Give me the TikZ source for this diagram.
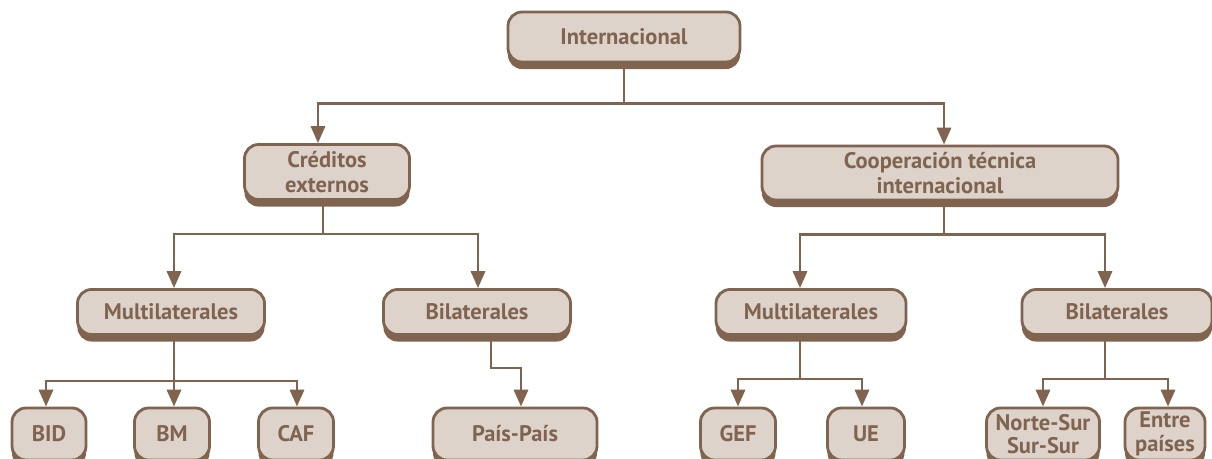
\documentclass[tikz,border=0pt]{standalone}
\usepackage{fontspec}
\setmainfont{PT Sans}
\usetikzlibrary{arrows.meta, shadows, calc}
\definecolor{cafe}{RGB}{128,100,80}
\definecolor{arena}{RGB}{221,211,203}
\tikzset{
	x=0.025cm, y=-0.025cm, % one unit is one pixel of the layout
	caja/.style={rectangle, rounded corners=10pt, draw=cafe, line width=2pt, fill=arena, text=cafe,
		font=\bfseries\fontsize{16}{17.5}\selectfont, align=center, inner sep=2pt,
		drop shadow={shadow xshift=0pt, shadow yshift=-5pt, fill=cafe, opacity=1}}, % boxes with a solid shadow
	nivel/.style={caja, minimum height=1.125cm}, % the row of Multilaterales / Bilaterales
	hoja/.style={caja, minimum height=1.3cm, font=\bfseries\fontsize{16}{16.8}\selectfont}, % the bottom row, cut by the page
	enlace/.style={draw=cafe, line width=2pt},
	flecha/.style={enlace, -{Triangle[length=12pt,width=10pt]}}, % connectors with a filled head
}

\begin{document}
\begin{tikzpicture}
	\useasboundingbox (0,0) rectangle (1212,459);
	% top
	\node[caja, minimum width=5.8cm, minimum height=1.25cm] (inter) at (624,37) {Internacional};
	\node[caja, minimum width=4.125cm, minimum height=1.375cm] (cred) at (327,172) {Créditos\\externos};
	\node[caja, minimum width=8.9cm, minimum height=1.35cm] (coop) at (940,173) {Cooperación técnica\\internacional};
	% second level
	\node[nivel, minimum width=4.675cm] (multiA) at (171,312) {Multilaterales};
	\node[nivel, minimum width=4.675cm] (bilA) at (477,312) {Bilaterales};
	\node[nivel, minimum width=4.75cm] (multiB) at (811,312) {Multilaterales};
	\node[nivel, minimum width=4.75cm] (bilB) at (1117,312) {Bilaterales};
	% bottom
	\node[hoja, minimum width=1.85cm] (bid) at (49,434) {BID};
	\node[hoja, minimum width=1.875cm] (bm) at (172,434) {BM};
	\node[hoja, minimum width=1.875cm] (caf) at (296,434) {CAF};
	\node[hoja, minimum width=4.1cm] (pais) at (515,434) {País-País};
	\node[hoja, minimum width=1.875cm] (gef) at (738,434) {GEF};
	\node[hoja, minimum width=1.925cm] (ue) at (866,434) {UE};
	\node[hoja, minimum width=2.825cm] (norte) at (1043,434) {Norte-Sur\\Sur-Sur};
	\node[hoja, minimum width=2cm] (entre) at (1165,434) {Entre\\países};

	\draw[flecha] (inter.south) -- ++(0,40) -| ($(cred.north)+(-9,0)$);
	\draw[flecha] (inter.south) -- ++(0,40) -| ($(coop.north)+(4,0)$);

	\draw[flecha] ($(cred.south)+(-4,0)$) -- ++(0,33) -| ($(multiA.north)+(3,0)$);
	\draw[flecha] ($(cred.south)+(-4,0)$) -- ++(0,33) -| ($(bilA.north)+(1,0)$);
	\draw[flecha] ($(coop.south)+(4,0)$) -- ++(0,33) -| ($(multiB.north)+(-11,0)$);
	\draw[flecha] ($(coop.south)+(4,0)$) -- ++(0,33) -| ($(bilB.north)+(-12,0)$);

	\draw[flecha] ($(multiA.south)+(3,0)$) -- ++(0,45) -| ($(bid.north)+(-3,0)$);
	\draw[flecha] ($(multiA.south)+(3,0)$) -- ++(0,45) -| ($(bm.north)+(2,0)$);
	\draw[flecha] ($(multiA.south)+(3,0)$) -- ++(0,45) -| ($(caf.north)+(1,0)$);
	\draw[flecha] ($(bilA.south)+(14,0)$) -- ++(0,32) -| ($(pais.north)+(6,0)$);
	\draw[flecha] ($(multiB.south)+(-11,0)$) -- ++(0,43) -| (gef.north);
	\draw[flecha] ($(multiB.south)+(-11,0)$) -- ++(0,43) -| ($(ue.north)+(-4,0)$);
	\draw[flecha] ($(bilB.south)+(-12,0)$) -- ++(0,43) -| (norte.north);
	\draw[flecha] ($(bilB.south)+(-12,0)$) -- ++(0,43) -| ($(entre.north)+(3,0)$);
\end{tikzpicture}
\end{document}
